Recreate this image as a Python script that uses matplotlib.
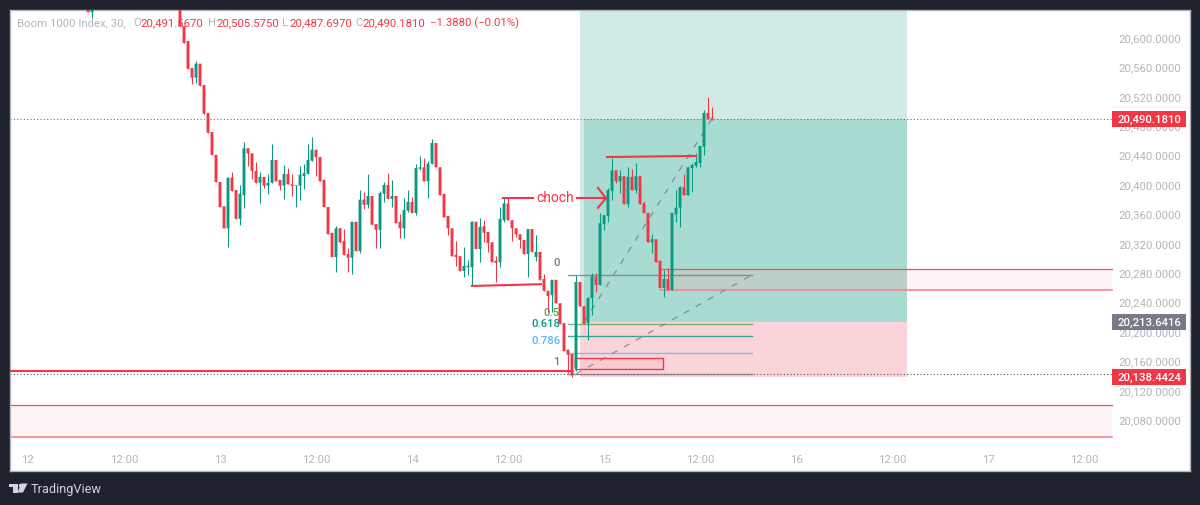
import numpy as np
import matplotlib
matplotlib.use("Agg")
import matplotlib.pyplot as plt
from matplotlib.patches import Rectangle, Polygon

plt.rcParams['font.family'] = ['Roboto', 'DejaVu Sans']

# bars are 30 minutes, bar 0 is the 12th at 00:00
first_bar = 15
top_opens = [20640, 20635]
top_closes = [20635, 20640]
top_highs = [20640, 20640]
top_lows = [20635, 20627]
hidden_bars = 21  # above the visible price range

opens = [
    20645, 20616, 20596, 20559, 20546, 20565, 20536, 20498, 20472, 20441,
    20404, 20371, 20341, 20410, 20393, 20354, 20386, 20450, 20443, 20419,
    20403, 20411, 20399, 20403, 20434, 20407, 20399, 20415, 20401, 20399,
    20399, 20412, 20415, 20433, 20448, 20438, 20407, 20370, 20335, 20302,
    20341, 20324, 20306, 20301, 20350, 20310, 20380, 20373, 20385, 20347,
    20339, 20388, 20400, 20381, 20385, 20350, 20341, 20365, 20377, 20362,
    20422, 20424, 20405, 20429, 20457, 20424, 20388, 20358, 20341, 20305,
    20303, 20283, 20288, 20288, 20350, 20313, 20344, 20336, 20322, 20297,
    20295, 20352, 20375, 20352, 20341, 20333, 20325, 20306, 20340, 20302,
    20309, 20272, 20256, 20250, 20271, 20239, 20212, 20176, 20170, 20151,
    20268, 20235, 20212, 20246, 20275, 20264, 20347, 20358, 20392, 20420,
    20405, 20412, 20374, 20411, 20393, 20412, 20375, 20362, 20322, 20326,
    20297, 20260, 20272, 20257, 20360, 20369, 20397, 20386, 20423, 20426,
    20430, 20452, 20498, 20491.569]
closes = [
    20616, 20593, 20558, 20546, 20565, 20535, 20497, 20471, 20441, 20404,
    20370, 20341, 20410, 20392, 20354, 20388, 20450, 20443, 20419, 20403,
    20411, 20399, 20403, 20434, 20405, 20399, 20415, 20401, 20399, 20400,
    20414, 20416, 20434, 20448, 20438, 20405, 20370, 20333, 20302, 20341,
    20322, 20305, 20301, 20350, 20310, 20380, 20373, 20385, 20346, 20339,
    20389, 20400, 20381, 20385, 20348, 20341, 20366, 20377, 20362, 20423,
    20424, 20405, 20429, 20457, 20424, 20386, 20356, 20341, 20303, 20302,
    20283, 20290, 20290, 20350, 20313, 20343, 20335, 20321, 20295, 20294,
    20354, 20375, 20352, 20341, 20333, 20325, 20306, 20340, 20309, 20309,
    20271, 20256, 20249, 20271, 20239, 20211, 20174, 20169, 20141, 20268,
    20235, 20211, 20246, 20276, 20264, 20348, 20359, 20393, 20420, 20405,
    20412, 20374, 20411, 20393, 20412, 20374, 20362, 20322, 20326, 20295,
    20260, 20272, 20257, 20362, 20369, 20397, 20386, 20424, 20427, 20431,
    20453, 20498, 20490, 20490.181]
highs = [
    20645, 20616, 20596, 20559, 20569, 20565, 20536, 20498, 20472, 20441,
    20404, 20371, 20410, 20418, 20393, 20400, 20458, 20450, 20443, 20431,
    20418, 20411, 20415, 20456, 20434, 20407, 20427, 20423, 20415, 20400,
    20426, 20429, 20456, 20465, 20448, 20438, 20407, 20370, 20335, 20344,
    20341, 20340, 20314, 20350, 20350, 20393, 20390, 20415, 20385, 20347,
    20392, 20404, 20416, 20407, 20385, 20361, 20382, 20393, 20384, 20429,
    20439, 20437, 20433, 20463, 20457, 20424, 20388, 20358, 20341, 20324,
    20303, 20316, 20298, 20351, 20350, 20355, 20352, 20336, 20322, 20303,
    20370, 20382, 20382, 20352, 20341, 20333, 20325, 20340, 20340, 20332,
    20309, 20279, 20256, 20271, 20271, 20239, 20212, 20176, 20170, 20278,
    20268, 20235, 20248, 20280, 20280, 20362, 20359, 20396, 20437, 20420,
    20420, 20412, 20424, 20422, 20430, 20412, 20378, 20362, 20333, 20326,
    20297, 20284, 20287, 20362, 20393, 20398, 20415, 20424, 20430, 20443,
    20453, 20502, 20520, 20505.575]
lows = [
    20616, 20593, 20558, 20537, 20539, 20535, 20497, 20471, 20441, 20404,
    20370, 20341, 20316, 20392, 20354, 20346, 20369, 20426, 20408, 20403,
    20375, 20396, 20388, 20403, 20405, 20393, 20381, 20401, 20385, 20370,
    20380, 20395, 20415, 20433, 20412, 20405, 20370, 20333, 20302, 20282,
    20321, 20305, 20282, 20279, 20310, 20307, 20367, 20369, 20346, 20314,
    20314, 20377, 20381, 20370, 20348, 20328, 20328, 20363, 20362, 20359,
    20420, 20405, 20382, 20429, 20424, 20386, 20356, 20332, 20303, 20290,
    20283, 20275, 20277, 20264, 20313, 20295, 20322, 20309, 20295, 20268,
    20288, 20350, 20352, 20324, 20329, 20314, 20306, 20275, 20309, 20297,
    20271, 20256, 20227, 20227, 20239, 20211, 20174, 20144, 20138.4424, 20147,
    20235, 20211, 20189, 20223, 20254, 20264, 20339, 20350, 20380, 20403,
    20389, 20374, 20370, 20393, 20389, 20374, 20362, 20322, 20307, 20295,
    20260, 20248, 20257, 20257, 20350, 20343, 20386, 20386, 20390, 20425,
    20424, 20441, 20490, 20487.697]

price_ticks = [20600, 20560, 20520, 20480, 20440, 20400, 20360, 20320, 20280,
               20240, 20200, 20160, 20120, 20080]
time_ticks = [0, 24, 48, 72, 96, 120, 144, 168, 192, 216, 240, 264]
time_labels = ['12', '12:00', '13', '12:00', '14', '12:00', '15', '12:00',
               '16', '12:00', '17', '12:00']

last_price = 20490.1810
entry_price = 20213.6416
stop_price = 20138.4424
target_price = 20700

fib_zero = 20277.6
fib_one = 20142.9
fib_levels = [0, 0.5, 0.618, 0.786, 1]
fib_names = ['0', '0.5', '0.618', '0.786', '1']
fib_colors = ['#787b86', '#4caf50', '#089981', '#64b5f6', '#787b86']

RED = '#f23645'
GREEN = '#089981'
DARK = '#1e222d'
GREY = '#b2b5be'

fig = plt.figure(figsize=(12, 5.05), dpi=100, facecolor=DARK)
ax = fig.add_axes([10 / 1200, 1 - 471 / 505, 1180 / 1200, 461 / 505], facecolor='white')
ax.set_xlim(-4.5, 290.5)
ax.set_ylim(20010.9, 20638)
ax.set_axisbelow(True)
for s in ax.spines.values():
    s.set_color(GREY)
    s.set_linewidth(1)

# axes labels sit inside the white panel
ax.yaxis.tick_right()
ax.set_yticks(price_ticks)
ax.set_yticklabels([f'{p:,.4f}' for p in price_ticks], ha='right')
ax.set_xticks(time_ticks)
ax.set_xticklabels(time_labels)
ax.tick_params(axis='y', length=0, pad=-6.5, labelsize=8.2, labelcolor=GREY)
ax.tick_params(axis='x', length=0, pad=-11.5, labelsize=8.2, labelcolor=GREY)

# long position box
pos_start, pos_fill, pos_end = 138, 139, 219.75
ax.add_patch(Rectangle((pos_start, entry_price), pos_end - pos_start, target_price - entry_price,
                       fc='#d0ebe5', ec='none', zorder=1))
ax.add_patch(Rectangle((pos_fill, entry_price), pos_end - pos_fill, last_price - entry_price,
                       fc='#a8dbd1', ec='none', zorder=1.1))
ax.add_patch(Rectangle((pos_start, stop_price), pos_end - pos_start, entry_price - stop_price,
                       fc='#fad4d8', ec='none', zorder=1))

# supply/demand zones
zone_lefts = [158, -4.5]
zone_bottoms = [20257, 20057]
zone_tops = [20286, 20101]
for left, bottom, top in zip(zone_lefts, zone_bottoms, zone_tops):
    ax.add_patch(Rectangle((left, bottom), 271 - left, top - bottom, fc=RED, alpha=0.05, ec='none', zorder=1.2))
    ax.plot([left, 271], [top, top], color='#e8535f', lw=0.9, zorder=1.3)
    ax.plot([left, 271], [bottom, bottom], color='#f4858e', lw=1.2, zorder=1.3)
# the zone looks greyer where it crosses the teal box
ax.add_patch(Rectangle((158, zone_bottoms[0]), pos_end - 158, zone_tops[0] - zone_bottoms[0],
                       fc='#bcd8d0', ec='none', zorder=1.15))

# dotted price lines
ax.plot([-4.5, 271], [last_price, last_price], color=RED, lw=0.8, ls=(0, (1, 2)), zorder=1.4)
ax.plot([-4.5, 271], [fib_one, fib_one], color='#50535e', lw=0.8, ls=(0, (1, 2)), zorder=1.4)

# fib retracement
fib_left, fib_right = 135, 181
for lvl, name, col in zip(fib_levels, fib_names, fib_colors):
    p = fib_zero + (fib_one - fib_zero) * lvl
    ax.plot([fib_left, fib_right], [p, p], color=col, lw=1, alpha=0.8, zorder=1.6)
    ax.text(133, p + 16, name, color=col, fontsize=8.2, ha='right', va='center', fontweight='medium', zorder=2)
ax.plot([137, fib_right], [fib_one, fib_zero], color='#787b86', lw=0.9, alpha=0.8, ls=(0, (5, 6)), zorder=1.7)

# position diagonal
ax.plot([139, 171], [entry_price, last_price], color='#787b86', lw=0.9, alpha=0.8, ls=(0, (5, 6)), zorder=1.7)

# candles
o = np.array(top_opens + [np.nan] * hidden_bars + opens)
c = np.array(top_closes + [np.nan] * hidden_bars + closes)
h = np.array(top_highs + [np.nan] * hidden_bars + highs)
l = np.array(top_lows + [np.nan] * hidden_bars + lows)
x = first_bar + np.arange(len(o))
keep = ~np.isnan(o)
x, o, c, h, l = x[keep], o[keep], c[keep], h[keep], l[keep]
colors = [GREEN if ci >= oi else RED for oi, ci in zip(o, c)]
ax.vlines(x, l, h, colors=colors, lw=0.75, zorder=3)
bodies = ax.bar(x, np.abs(c - o), bottom=np.minimum(o, c), width=0.72, color=colors, zorder=3.1)
for b in bodies:
    b.set_snap(False)  # otherwise widths jump between 2 and 4 pixels

# hand drawn lines
ax.plot([-4.5, 135.5], [20147, 20147], color=RED, lw=1.5, zorder=3.2)
ax.plot([111, 128.25], [20262.6, 20265], color=RED, lw=1.5, zorder=3.2)
ax.plot([144.75, 167], [20438, 20439.5], color=RED, lw=1.5, zorder=3.2)
ax.plot([118.75, 126.25], [20382, 20382], color=RED, lw=1.5, zorder=3.2)
ax.plot([137.25, 144.5], [20382, 20382], color=RED, lw=1.5, zorder=3.2)
ax.plot([142.5, 144.5, 142.5], [20396, 20382, 20369], color=RED, lw=1.5, zorder=3.2)
ax.text(131.75, 20382, 'choch', color=RED, fontsize=10, ha='center', va='center', zorder=3.2)
ax.add_patch(Rectangle((136.75, 20149.7), 22, 14.9, fc=RED, alpha=0.06, ec='none', zorder=1.8))
ax.add_patch(Rectangle((136.75, 20149.7), 22, 14.9, fc='none', ec=RED, lw=1, zorder=1.9))

# price tags on the scale
tag_prices = [last_price, entry_price, stop_price]
tag_colors = [RED, '#787b86', RED]
for price, col in zip(tag_prices, tag_colors):
    ax.add_patch(Rectangle((271, price - 11), 18.5, 22, fc=col, ec='none', zorder=5))
    ax.text(288.3, price, f'{price:,.4f}', color='white', fontsize=8.2, fontweight='medium',
            ha='right', va='center_baseline', zorder=6)

# header
header = [(17, 'Boom 1000 Index, 30,', GREY), (133, 'O', GREY), (140, '20,491.5670', RED),
          (208, 'H', GREY), (216, '20,505.5750', RED), (282, 'L', GREY), (289, '20,487.6970', RED),
          (355, 'C', GREY), (362, '20,490.1810', RED), (430, '\u22121.3880 (\u22120.01%)', RED)]
for px, txt, col in header:
    fig.text(px / 1200, 1 - 23 / 505, txt, color=col, fontsize=8.2, va='center', zorder=10)

# footer logo
def fpts(pts):
    return [(a / 1200, 1 - b / 505) for a, b in pts]

logo_col = '#d1d4dc'
fig.add_artist(Polygon(fpts([(9, 483.5), (17.5, 483.5), (17.5, 492.5), (13, 492.5), (13, 486.5), (9, 486.5)]),
                       closed=True, fc=logo_col, ec='none', transform=fig.transFigure))
fig.add_artist(Polygon(fpts([(21, 483.5), (27.5, 483.5), (23, 492.5), (17.5, 492.5)]),
                       closed=True, fc=logo_col, ec='none', transform=fig.transFigure))
fig.add_artist(Polygon(fpts([(18.5, 484), (20.8, 484), (20.8, 486.5), (18.5, 486.5)]),
                       closed=True, fc=logo_col, ec='none', transform=fig.transFigure))
fig.text(31 / 1200, 1 - 489 / 505, 'TradingView', color=logo_col, fontsize=9.2, va='center')

fig.savefig('out.png', dpi=100, facecolor=DARK)
